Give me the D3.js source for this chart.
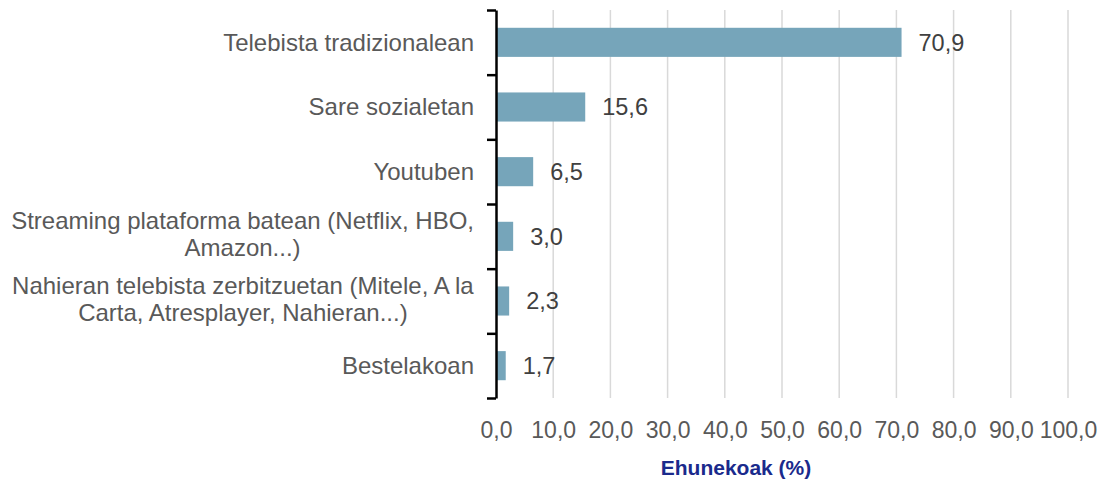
<!DOCTYPE html>
<html>
<head>
<meta charset="utf-8">
<script src="https://cdn.jsdelivr.net/npm/d3@7"></script>
<style>
  body { margin: 0; background: #fff; }
  text { font-family: "Liberation Sans", Arial, sans-serif; }
</style>
</head>
<body>
<div id="chart"></div>
<script>
// data
const categories = [
  "Telebista tradizionalean",
  "Sare sozialetan",
  "Youtuben",
  "Streaming plataforma batean (Netflix, HBO,\nAmazon...)",
  "Nahieran telebista zerbitzuetan (Mitele, A la\nCarta, Atresplayer, Nahieran...)",
  "Bestelakoan"
];
const values = [70.9, 15.6, 6.5, 3.0, 2.3, 1.7];
const xTicks = [0, 10, 20, 30, 40, 50, 60, 70, 80, 90, 100];
const axisTitle = "Ehunekoak (%)";

const W = 1103, H = 482;
const plotLeft = 496, plotRight = 1068, plotTop = 10, plotBottom = 398;

const fmt = v => d3.format(".1f")(v).replace(".", ",");

const svg = d3.select("#chart").append("svg")
    .attr("width", W)
    .attr("height", H)
    .style("display", "block");

const x = d3.scaleLinear().domain([0, 100]).range([plotLeft, plotRight]);
const y = d3.scaleBand().domain(categories).range([plotTop, plotBottom]).paddingInner(0.55).paddingOuter(0.275);

// gridlines
svg.append("g")
  .selectAll("line")
  .data(xTicks.slice(1))
  .join("line")
    .attr("x1", d => x(d))
    .attr("x2", d => x(d))
    .attr("y1", plotTop)
    .attr("y2", plotBottom)
    .attr("stroke", "#d9d9d9")
    .attr("stroke-width", 1.5);

// bars
svg.append("g")
  .selectAll("rect")
  .data(values)
  .join("rect")
    .attr("x", x(0))
    .attr("y", (d, i) => y(categories[i]))
    .attr("width", d => x(d) - x(0))
    .attr("height", y.bandwidth())
    .attr("fill", "#76a5ba");

// value labels
svg.append("g")
  .selectAll("text")
  .data(values)
  .join("text")
    .attr("x", d => x(d) + 17)
    .attr("y", (d, i) => y(categories[i]) + y.bandwidth() / 2)
    .attr("dy", "0.35em")
    .attr("fill", "#404040")
    .style("font-size", "23.5px")
    .text(d => fmt(d));

// left axis with ticks between the bands
const yEdge = d3.scaleLinear().domain([0, categories.length]).range([plotTop, plotBottom]);
const yAxis = svg.append("g")
    .attr("transform", `translate(${plotLeft},0)`)
    .call(d3.axisLeft(yEdge)
      .tickValues(d3.range(categories.length + 1))
      .tickFormat("")
      .tickSize(9)
      .tickSizeOuter(0));
yAxis.selectAll("line, path").attr("stroke", "#000").attr("stroke-width", 2.5);

// category labels, lines centred, block right aligned
const lh = 26.5;
const catG = svg.append("g");
categories.forEach((c, i) => {
  const lines = c.split("\n");
  const cy = y(c) + y.bandwidth() / 2 - (lines.length > 1 ? 2 : 0);
  const t = catG.append("text")
      .attr("fill", "#595959")
      .style("font-size", "24px")
      .attr("text-anchor", "middle");
  lines.forEach((ln, j) => {
    t.append("tspan")
      .attr("x", 0)
      .attr("y", cy + (j - (lines.length - 1) / 2) * lh)
      .attr("dy", "0.35em")
      .text(ln);
  });
  const w = t.node().getBBox().width;
  t.attr("transform", `translate(${474 - w / 2},0)`);
});

// x tick labels
svg.append("g")
    .attr("transform", `translate(0,${plotBottom})`)
    .call(d3.axisBottom(x).tickValues(xTicks).tickFormat(fmt).tickSize(0).tickPadding(24))
    .call(g => g.select(".domain").remove())
    .selectAll("text")
    .attr("fill", "#595959")
    .style("font-size", "23px")
    .style("font-family", "'Liberation Sans', Arial, sans-serif");

// axis title
svg.append("text")
    .attr("x", 736)
    .attr("y", 468)
    .attr("dy", "0.35em")
    .attr("text-anchor", "middle")
    .attr("fill", "#1a2a8c")
    .style("font-size", "21px")
    .style("font-weight", "bold")
    .text(axisTitle);
</script>
</body>
</html>
